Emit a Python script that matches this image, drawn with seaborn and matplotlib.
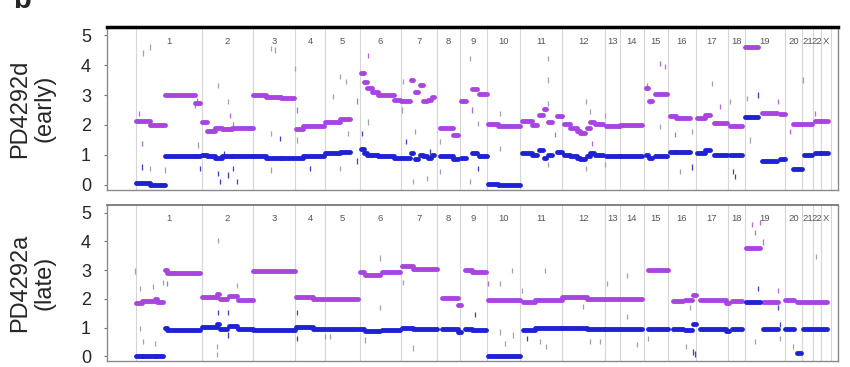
import numpy as np
import pandas as pd
import seaborn as sns
from matplotlib import pyplot as plt

sns.set_theme(style="white")
plt.rcParams['font.family'] = ['Liberation Sans', 'DejaVu Sans']

# chromosome layout (plot units, ordered by genome index)
chrom_names = ['1', '2', '3', '4', '5', '6', '7', '8', '9', '10', '11', '12',
               '13', '14', '15', '16', '17', '18', '19', '20', '21', '22', 'X']
chrom_sizes = [66, 51, 42, 30, 35, 41, 36, 23, 27, 33, 42, 43,
               15, 24, 24, 28, 32, 17, 40, 17, 11, 8, 10]

# early sample PD4292d: segments (start, end, total CN, minor CN)
early_start = [0, 14, 29, 59, 66, 71, 79, 86, 96, 117, 130, 145, 160, 167, 189, 204,
               225, 228, 231, 236, 242, 258, 265, 275, 279, 284, 287, 292, 296,
               304, 317, 325, 336, 343, 352, 362, 386, 396, 403, 408, 412, 421,
               428, 434, 441, 444, 451, 454, 459, 470, 484, 510, 513, 519,
               534, 540, 561, 569, 578, 594, 609, 626, 644, 657, 668, 679, 685]
early_end = [14, 29, 59, 64, 71, 79, 86, 96, 117, 130, 145, 158, 167, 188, 204, 214,
             228, 231, 236, 242, 258, 264, 274, 277, 282, 287, 291, 295, 298,
             317, 322, 330, 341, 351, 362, 384, 396, 401, 407, 410, 416, 426,
             434, 441, 444, 449, 454, 458, 467, 484, 506, 512, 516, 531,
             540, 554, 569, 574, 591, 606, 622, 641, 649, 666, 676, 685, 692]
early_total = [2.15, 2.0, 3.0, 2.75, 2.1, 1.8, 1.9, 1.85, 1.9, 3.0, 2.95, 2.9, 1.85, 1.95, 2.1, 2.2,
               3.75, 3.45, 3.25, 3.1, 3.0, 2.85, 2.8, 3.5, 3.1, 3.35, 2.8, 2.85, 2.95,
               1.9, 1.65, 2.8, 3.2, 3.05, 2.05, 1.95, 2.15, 2.0, 2.35, 2.55, 2.1, 2.3,
               2.05, 1.9, 1.8, 1.72, 1.9, 2.1, 2.05, 1.97, 2.0, 3.25, 2.8, 3.05,
               2.3, 2.22, 2.25, 2.35, 2.08, 1.98, 4.6, 2.4, 2.38, 2.05, 2.05, 2.12, 2.12]
early_minor = [0.05, 0.0, 0.95, 0.95, 1.0, 0.95, 0.9, 0.95, 0.95, 0.95, 0.9, 0.9, 0.9, 0.95, 1.05, 1.1,
               1.2, 1.05, 1.0, 1.0, 0.95, 0.9, 0.9, 1.05, 0.85, 1.0, 0.95, 0.9, 1.0,
               0.95, 0.85, 0.9, 1.05, 0.95, 0.02, 0.0, 1.05, 1.0, 1.15, 0.9, 1.0, 1.1,
               1.0, 0.95, 0.9, 0.85, 0.95, 1.05, 1.0, 0.97, 0.98, 1.0, 0.9, 0.95,
               1.1, 1.1, 1.05, 1.15, 1.0, 1.0, 2.27, 0.8, 0.85, 0.52, 1.0, 1.05, 1.05]

# late sample PD4292a
late_start = [0, 6, 19, 21, 29, 31, 66, 81, 84, 93, 102, 117, 160, 177, 191,
              224, 229, 246, 266, 277, 306, 322, 329, 336, 352, 387, 399, 426, 451,
              469, 485, 512, 537, 549, 557, 564, 590, 596, 610, 627, 649, 661, 667]
late_end = [6, 19, 21, 27, 31, 64, 81, 83, 91, 101, 117, 159, 177, 189, 222,
            228, 244, 264, 277, 301, 322, 325, 336, 350, 384, 399, 426, 451, 469,
            484, 506, 532, 547, 556, 560, 590, 593, 606, 624, 642, 658, 665, 691]
late_total = [1.85, 1.92, 1.98, 1.9, 3.0, 2.9, 2.07, 2.18, 2.0, 2.1, 1.95, 2.97, 2.07, 1.98, 1.98,
              2.95, 2.83, 2.95, 3.13, 3.03, 2.02, 1.8, 3.0, 2.95, 1.97, 1.88, 1.97, 2.07, 2.0,
              1.98, 2.0, 3.0, 1.91, 1.97, 2.15, 1.97, 1.86, 1.92, 3.78, 1.88, 1.97, 1.88, 1.88]
late_minor = [0.0, 0.0, 0.0, 0.0, 1.0, 0.9, 1.02, 1.12, 0.96, 1.06, 0.94, 0.92, 1.02, 0.96, 0.96,
              0.95, 0.87, 0.92, 0.97, 0.95, 0.96, 0.85, 0.95, 0.93, 0.0, 0.9, 0.97, 1.0, 0.96,
              0.95, 0.96, 0.94, 0.94, 0.92, 1.12, 0.96, 0.87, 0.94, 1.88, 0.94, 0.94, 0.1, 0.94]

# scattered single probes (position, value, kind: t=total, m=minor, g=grey)
early_pt_pos = [7, 14, 3, 6, 6, 14, 29, 59, 61, 82, 92, 94, 97, 62, 64, 82, 84, 92, 97, 101, 88,
                135, 139, 135, 144, 135, 159, 161, 161, 174, 204, 210, 204, 212, 197, 221, 221,
                232, 226, 232, 266, 267, 270, 279, 277, 291, 294, 304, 304, 334, 336, 334, 342, 342,
                364, 364, 412, 412, 412, 419, 412, 450, 454, 450, 456, 469, 469, 511, 514,
                524, 529, 524, 539, 544, 556, 556, 576, 584, 594, 597, 599,
                611, 614, 622, 642, 654, 667, 679]
early_pt_cn = [4.4, 4.6, 2.39, 1.39, 0.6, 0.55, 0.5, 2.67, 2.83, 3.33, 2.78, 2.33, 2.0, 1.33, 0.55, 0.39, 0.11, 0.33, 0.55, 0.11, 1.05,
               4.56, 4.5, 1.72, 1.55, 0.5, 3.89, 2.5, 1.5, 0.55, 3.61, 3.44, 0.55, 1.72, 2.94, 2.8, 0.8,
               4.33, 1.72, 2.1, 2.5, 3.44, 1.44, 1.78, 0.11, 0.22, 1.11, 1.44, 0.44, 4.22, 2.5, 0.11, 2.06, 0.55,
               2.39, 1.22, 4.22, 3.5, 2.72, 1.67, 0.67, 2.78, 2.44, 0.55, 1.39, 2.33, 0.67, 3.33, 2.78,
               4.06, 3.94, 1.94, 1.67, 0.44, 0.6, 1.78, 3.39, 2.61, 2.78, 0.44, 0.28,
               2.89, 1.5, 3.0, 2.78, 1.78, 3.5, 2.39]
early_pt_kind = ['g', 'g', 't', 't', 'm', 'g', 'g', 't', 't', 'g', 'g', 't', 't', 'g', 'm', 'm', 'm', 'm', 'm', 'm', 'm',
                 'g', 'g', 'g', 'm', 'g', 'g', 't', 'g', 'm', 'g', 'g', 'g', 'g', 'g', 't', 'm',
                 't', 'm', 'g', 'g', 'g', 'm', 'g', 'g', 'g', 'm', 'g', 'g', 'g', 't', 'g', 'g', 'm',
                 'g', 'g', 'g', 'g', 'g', 't', 'g', 'g', 'g', 'g', 't', 'g', 'g', 't', 't',
                 't', 't', 'g', 't', 'g', 'm', 'g', 'g', 't', 'g', 'm', 'm',
                 'g', 'g', 'm', 't', 't', 'g', 't']

late_pt_pos = [-1, 4, 17, 27, 4, 7, 19, 31, 82, 82, 92, 92, 101, 81, 81, 161, 161, 189, 194,
               244, 244, 229, 267, 277, 339, 352, 364, 376, 364, 369, 377, 386, 391, 409, 404, 410,
               447, 454, 464, 471, 491, 491, 501, 512, 550, 554, 557, 559,
               616, 619, 624, 627, 622, 619, 642, 642, 644, 644, 657, 680]
late_pt_cn = [2.97, 2.36, 2.42, 2.58, 0.96, 0.51, 0.46, 2.53, 4.04, 1.52, 1.52, 0.74, 2.47, 0.34, 0.07, 1.52, 0.63, 0.68, 0.68,
              3.42, 1.69, 0.57, 2.58, 0.29, 1.46, 2.53, 2.53, 2.98, 0.85, 0.46, 0.74, 2.3, 0.63, 2.98, 0.51, 0.34,
              1.74, 0.51, 0.51, 2.53, 2.8, 1.4, 0.4, 0.63, 0.34, 1.69, 0.15, 0.08,
              4.6, 4.32, 4.65, 3.98, 2.36, 0.51, 2.3, 1.69, 1.12, 0.63, 0.34, 3.48]
late_pt_kind = ['g', 'g', 'g', 'g', 'g', 'g', 'g', 't', 'g', 'm', 'm', 'm', 'g', 'g', 'g', 'm', 'm', 'g', 'g',
                'g', 'g', 'g', 'g', 'g', 'm', 't', 'g', 'g', 'g', 'g', 'g', 'g', 'm', 'g', 'g', 'g',
                'g', 'g', 'g', 'g', 'g', 'g', 'g', 'g', 'g', 'g', 'm', 'm',
                't', 't', 't', 't', 'm', 'g', 't', 'm', 'm', 'g', 'g', 'g']

PURPLE = '#A845E0'
BLUE = '#1E22D4'
pt_palette = {'t': '#B469E6', 'm': '#3A3ED8', 'g': '#A0A0B0'}


def seg_frame(starts, ends, total, minor):
    rows = []
    for i, (s, e, t, m) in enumerate(zip(starts, ends, total, minor)):
        for x in (s, e):
            rows.append({'pos': x, 'cn': t, 'kind': 'total', 'seg': 't%d' % i})
            rows.append({'pos': x, 'cn': m, 'kind': 'minor', 'seg': 'm%d' % i})
    return pd.DataFrame(rows)


def draw_panel(ax, segs, pts, label):
    bounds = np.concatenate([[0], np.cumsum(chrom_sizes)])
    for b in bounds:
        ax.axvline(b, color='#D6D6D6', lw=0.8, zorder=0)
    centers = (bounds[:-1] + bounds[1:]) / 2
    for c, name in zip(centers, chrom_names):
        ax.text(c, 4.8, name, ha='center', va='center', fontsize=6.8, color='#555555')

    sns.scatterplot(data=pts, x='pos', y='cn', hue='kind', palette=pt_palette,
                    marker='|', s=14, linewidth=0.9, legend=False, ax=ax, zorder=2)
    sns.lineplot(data=segs, x='pos', y='cn', hue='kind', units='seg', estimator=None,
                 palette={'total': PURPLE, 'minor': BLUE}, linewidth=3.5,
                 sort=False, legend=False, ax=ax, zorder=3)

    ax.set_xlim(-29, 702)
    ax.set_ylim(-0.167, 5.267)
    ax.set_yticks(range(6))
    ax.set_xticks([])
    ax.set_xlabel('')
    ax.set_ylabel(label, fontsize=17, linespacing=1.1)
    ax.yaxis.set_label_coords(-0.071, 0.5)
    ax.tick_params(axis='y', direction='out', length=2.5, width=0.8, color='#777777',
                   pad=9, labelsize=13, left=True)
    for sp in ax.spines.values():
        sp.set_color('#8A8A8A')
        sp.set_linewidth(1.0)


fig = plt.figure(figsize=(8.5, 3.67), dpi=100)
ax1 = fig.add_axes([0.1259, 0.4823, 0.860, 0.4441])
ax2 = fig.add_axes([0.1259, 0.016, 0.860, 0.4254])

early_pts = pd.DataFrame({'pos': early_pt_pos, 'cn': early_pt_cn, 'kind': early_pt_kind})
late_pts = pd.DataFrame({'pos': late_pt_pos, 'cn': late_pt_cn, 'kind': late_pt_kind})

draw_panel(ax1, seg_frame(early_start, early_end, early_total, early_minor), early_pts,
           'PD4292d\n(early)')
draw_panel(ax2, seg_frame(late_start, late_end, late_total, late_minor), late_pts,
           'PD4292a\n(late)')

ax1.spines['top'].set_color('black')
ax1.spines['top'].set_linewidth(2.5)
ax2.spines['top'].set_color('#777777')
ax2.spines['top'].set_linewidth(1.3)

fig.text(13 / 850, 1 - 8 / 367, 'b', fontsize=21, fontweight='bold', va='baseline', ha='left')

fig.savefig('out.png', dpi=100)
